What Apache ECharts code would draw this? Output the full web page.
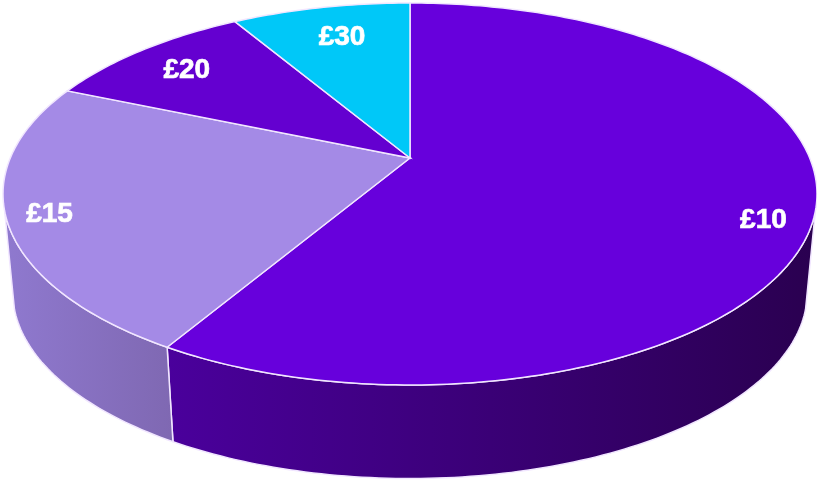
<!DOCTYPE html>
<html>
<head>
<meta charset="utf-8">
<style>
html, body { margin: 0; padding: 0; background: #fff; }
#chart { width: 817px; height: 483px; }
</style>
<script src="https://cdn.jsdelivr.net/npm/echarts@6/dist/echarts.min.js"></script>
</head>
<body>
<div id="chart"></div>
<script>
var prices = ['£10', '£15', '£20', '£30'];
var shares = [58.5, 22.9, 10.1, 8.5];

var topColors = ['#6700dc', '#a48ae6', '#6400d0', '#00c8f8'];
var wallFrom = ['#4a009c', '#8f79cf', '#4a009c', '#0090b8'];
var wallTo = ['#2a0050', '#7f68b2', '#2a0050', '#0090b8'];
var labelRadius = [0.888, 0.899, 0.818, 0.788];
var labelTurn = [5, 0, 0, 1];

// tilted disc: a circle seen in perspective, apex sits above the ellipse centre
var CX = 410, CY = 158, A = 399.7, B = 184.2, K = 0.1885;
var DEPTH = 99, BASE_SCALE = 0.976;
// the side wall only shows between these two angles
var WALL_FROM = 106, WALL_TO = 254;
var EDGE = '#f1e6ff';

var total = shares.reduce(function(a, b) { return a + b; }, 0);
var starts = [];
shares.reduce(function(sum, v, i) {
    starts[i] = sum;
    return sum + v;
}, 0);

function project(deg, r, scale, drop) {
    var t = deg * Math.PI / 180;
    var u = r * Math.sin(t), v = r * Math.cos(t);
    var w = 1 + K * v;
    return [CX + scale * A * u / w, CY + drop - scale * B * v / w];
}

function arc(from, to, scale, drop) {
    var pts = [];
    var n = Math.ceil(Math.abs(to - from));
    for (var i = 0; i <= n; i++) {
        pts.push(project(from + (to - from) * i / n, 1, scale, drop));
    }
    return pts;
}

function sliceAngles(i) {
    return [starts[i] / total * 360, (starts[i] + shares[i]) / total * 360];
}

function renderWall(params, api) {
    var i = api.value(0);
    var a = sliceAngles(i);
    var from = Math.max(a[0], WALL_FROM), to = Math.min(a[1], WALL_TO);
    if (from >= to) return null;
    var pts = arc(from, to, 1, 0).concat(arc(to, from, BASE_SCALE, DEPTH));
    var xs = pts.map(function(p) { return p[0]; });
    return {
        type: 'polygon',
        silent: true,
        shape: { points: pts },
        style: {
            fill: new echarts.graphic.LinearGradient(
                Math.min.apply(null, xs), 0, Math.max.apply(null, xs), 0,
                [{ offset: 0, color: wallFrom[i] }, { offset: 1, color: wallTo[i] }],
                true
            ),
            stroke: EDGE,
            lineWidth: 1.5
        }
    };
}

function renderTop(params, api) {
    var i = api.value(0);
    var a = sliceAngles(i);
    var pts = [[CX, CY]].concat(arc(a[0], a[1], 1, 0));
    return {
        type: 'polygon',
        silent: true,
        shape: { points: pts },
        style: { fill: topColors[i], stroke: EDGE, lineWidth: 1.5 }
    };
}

function renderLabel(params, api) {
    var i = api.value(0);
    var a = sliceAngles(i);
    var p = project((a[0] + a[1]) / 2 + labelTurn[i], labelRadius[i], 1, 0);
    return {
        type: 'text',
        silent: true,
        style: {
            x: p[0],
            y: p[1] + 2,
            text: prices[i],
            fill: '#ffffff',
            stroke: '#ffffff',
            lineWidth: 0.7,
            font: 'bold 28px "Liberation Sans", Arial, sans-serif',
            align: 'center',
            verticalAlign: 'middle'
        }
    };
}

var rows = shares.map(function(v, i) { return [i, v]; });

var myChart = echarts.init(document.getElementById('chart'), null, { renderer: 'canvas' });
myChart.setOption({
    animation: false,
    backgroundColor: '#ffffff',
    series: [
        { type: 'custom', coordinateSystem: 'none', renderItem: renderWall, data: rows, z: 1 },
        { type: 'custom', coordinateSystem: 'none', renderItem: renderTop, data: rows, z: 2 },
        { type: 'custom', coordinateSystem: 'none', renderItem: renderLabel, data: rows, z: 3 }
    ]
});
</script>
</body>
</html>
